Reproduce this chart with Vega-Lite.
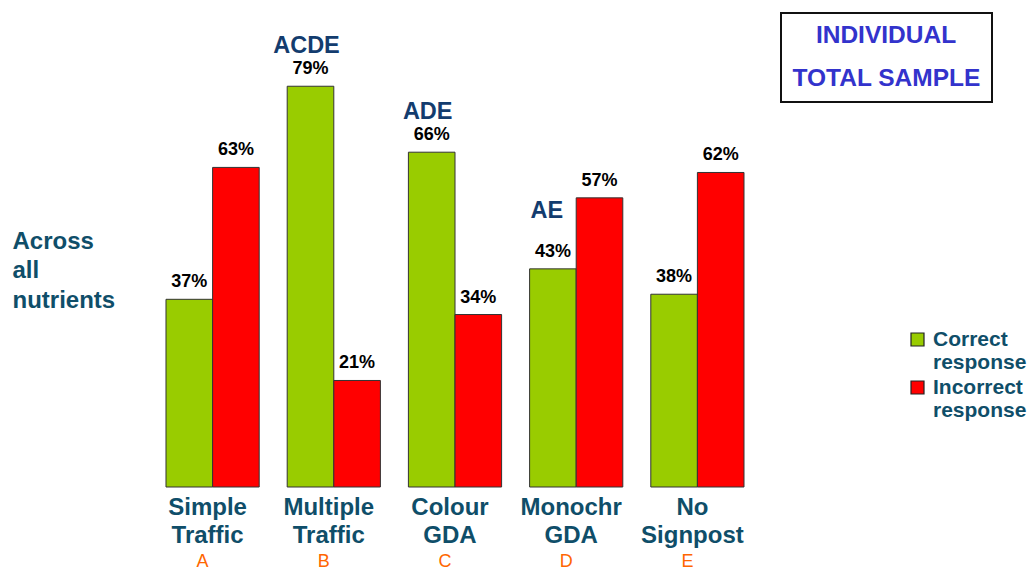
{
  "$schema": "https://vega.github.io/schema/vega-lite/v6.json",
  "width": 606,
  "height": 487,
  "autosize": {"type": "none"},
  "padding": {"left": 152, "top": 0, "right": 272, "bottom": 82},
  "background": "white",
  "config": {
    "view": {"stroke": null},
    "font": "Liberation Sans",
    "text": {"font": "Liberation Sans"},
    "legend": {"strokeWidth": 2}
  },
  "data": {
    "values": [
      {"product": "Simple Traffic", "response": "Correct response", "pct": 37, "sig": "", "sample": "TOTAL SAMPLE"},
      {"product": "Simple Traffic", "response": "Incorrect response", "pct": 63, "sig": "", "sample": "TOTAL SAMPLE"},
      {"product": "Multiple Traffic", "response": "Correct response", "pct": 79, "sig": "ACDE", "sample": "TOTAL SAMPLE"},
      {"product": "Multiple Traffic", "response": "Incorrect response", "pct": 21, "sig": "", "sample": "TOTAL SAMPLE"},
      {"product": "Colour GDA", "response": "Correct response", "pct": 66, "sig": "ADE", "sample": "TOTAL SAMPLE"},
      {"product": "Colour GDA", "response": "Incorrect response", "pct": 34, "sig": "", "sample": "TOTAL SAMPLE"},
      {"product": "Monochr GDA", "response": "Correct response", "pct": 43, "sig": "AE", "sample": "TOTAL SAMPLE"},
      {"product": "Monochr GDA", "response": "Incorrect response", "pct": 57, "sig": "", "sample": "TOTAL SAMPLE"},
      {"product": "No Signpost", "response": "Correct response", "pct": 38, "sig": "", "sample": "TOTAL SAMPLE"},
      {"product": "No Signpost", "response": "Incorrect response", "pct": 62, "sig": "", "sample": "TOTAL SAMPLE"}
    ]
  },
  "encoding": {
    "xOffset": {"field": "response", "type": "nominal", "sort": ["Correct response", "Incorrect response"]},
    "y": {
      "field": "pct",
      "type": "quantitative",
      "scale": {"domain": [0, 96], "nice": false},
      "axis": {
        "labels": false, "ticks": false, "domain": false, "grid": false,
        "title": ["Across", "all", "nutrients"],
        "titleAngle": 0, "titleAlign": "left", "titleBaseline": "alphabetic",
        "titleX": -140, "titleY": 248,
        "titleFont": "Liberation Sans", "titleFontSize": 24, "titleFontWeight": "bold",
        "titleColor": "#0F4E69", "titleLineHeight": 29.5
      }
    }
  },
  "layer": [
    {
      "mark": {"type": "bar", "stroke": "#333333", "strokeWidth": 1},
      "encoding": {
        "x": {
          "field": "product", "type": "nominal",
          "sort": ["Simple Traffic", "Multiple Traffic", "Colour GDA", "Monochr GDA", "No Signpost"],
          "scale": {"paddingInner": 0.231, "paddingOuter": 0.1155},
          "axis": {
            "orient": "bottom", "title": null, "ticks": false, "domain": false, "labelAngle": 0,
            "labelExpr": "split(datum.label, ' ')",
            "labelFont": "Liberation Sans", "labelFontSize": 24, "labelFontWeight": "bold",
            "labelColor": "#0F4E69", "labelLineHeight": 28.5, "labelPadding": 8, "labelOffset": -5,
            "labelLimit": 0, "labelOverlap": false
          }
        },
        "color": {
          "field": "response", "type": "nominal",
          "scale": {"domain": ["Correct response", "Incorrect response"], "range": ["#99CC00", "#FF0000"]},
          "legend": {
            "orient": "none", "legendX": 755, "legendY": 329, "title": null,
            "symbolType": "square", "symbolSize": 169, "symbolStrokeColor": "#222222", "symbolStrokeWidth": 1.2,
            "labelExpr": "split(datum.label, ' ')",
            "labelFont": "Liberation Sans", "labelFontSize": 21, "labelFontWeight": "bold",
            "labelColor": "#0F4E69", "labelLineHeight": 25, "labelOffset": 5,
            "rowPadding": 3, "labelLimit": 0
          }
        },
        "opacity": {
          "field": "sample", "type": "ordinal",
          "scale": {"range": [1, 1]},
          "legend": {
            "orient": "none", "legendX": 629, "legendY": 13,
            "title": "INDIVIDUAL", "titleAnchor": "middle",
            "titleFont": "Liberation Sans", "titleFontSize": 24.5, "titleFontWeight": "bold",
            "titleColor": "#3333CC", "titlePadding": 18.5,
            "symbolSize": 0, "symbolOpacity": 0, "labelOffset": -24,
            "labelFont": "Liberation Sans", "labelFontSize": 24.5, "labelFontWeight": "bold",
            "labelColor": "#3333CC", "labelLimit": 0,
            "strokeColor": "#111111", "padding": 11
          }
        }
      }
    },
    {
      "transform": [{"calculate": "datum.pct + '%'", "as": "pctLabel"}],
      "mark": {"type": "text", "baseline": "alphabetic", "dy": -12, "fontSize": 18, "fontWeight": "bold", "color": "#000000"},
      "encoding": {
        "x": {
          "field": "product", "type": "nominal",
          "sort": ["Simple Traffic", "Multiple Traffic", "Colour GDA", "Monochr GDA", "No Signpost"],
          "scale": {"paddingInner": 0.231, "paddingOuter": 0.1155},
          "axis": {
            "orient": "bottom", "title": null, "ticks": false, "domain": false, "labelAngle": 0,
            "labelExpr": "{'Simple Traffic': 'A', 'Multiple Traffic': 'B', 'Colour GDA': 'C', 'Monochr GDA': 'D', 'No Signpost': 'E'}[datum.label]",
            "labelFont": "Liberation Sans", "labelFontSize": 18, "labelFontWeight": "normal",
            "labelColor": "#FF6600", "labelBaseline": "alphabetic", "labelPadding": 79, "labelOffset": -10,
            "labelOverlap": false
          }
        },
        "text": {"field": "pctLabel", "type": "nominal"}
      }
    },
    {
      "transform": [{"filter": "datum.sig != '' && datum.product != 'Monochr GDA'"}],
      "mark": {"type": "text", "baseline": "alphabetic", "dy": -33, "dx": -4, "fontSize": 23.5, "fontWeight": "bold", "color": "#133C6E"},
      "encoding": {
        "x": {
          "field": "product", "type": "nominal",
          "sort": ["Simple Traffic", "Multiple Traffic", "Colour GDA", "Monochr GDA", "No Signpost"],
          "scale": {"paddingInner": 0.231, "paddingOuter": 0.1155},
          "axis": null
        },
        "text": {"field": "sig", "type": "nominal"}
      }
    },
    {
      "transform": [{"filter": "datum.sig != '' && datum.product == 'Monochr GDA'"}],
      "mark": {"type": "text", "baseline": "alphabetic", "dy": -51, "dx": -6, "fontSize": 23.5, "fontWeight": "bold", "color": "#133C6E"},
      "encoding": {
        "x": {
          "field": "product", "type": "nominal",
          "sort": ["Simple Traffic", "Multiple Traffic", "Colour GDA", "Monochr GDA", "No Signpost"],
          "scale": {"paddingInner": 0.231, "paddingOuter": 0.1155},
          "axis": null
        },
        "text": {"field": "sig", "type": "nominal"}
      }
    }
  ],
  "resolve": {"axis": {"x": "independent"}}
}
